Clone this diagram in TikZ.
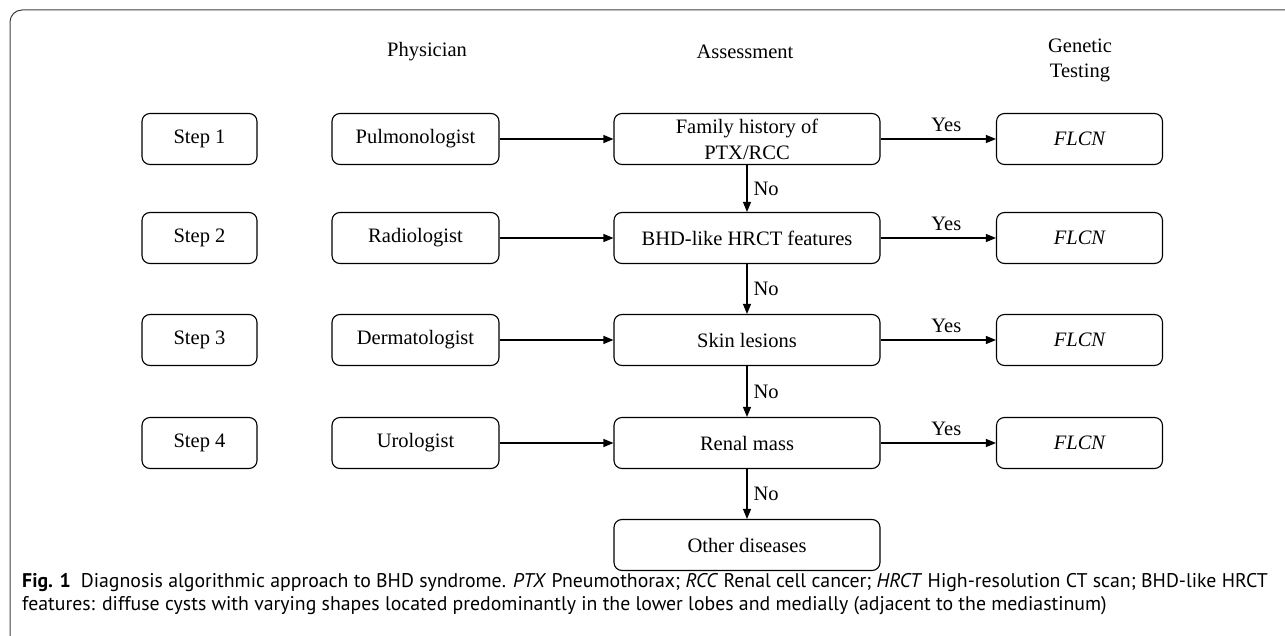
\documentclass[tikz,border=0pt]{standalone}
\usepackage{fontspec}
\setmainfont{Liberation Serif}
\newfontfamily\capfont{PT Sans}
\usetikzlibrary{arrows.meta,positioning}

\begin{document}
\begin{tikzpicture}[x=1pt,y=-1pt,
  box/.style={draw, line width=1.1pt, rounded corners=8pt, inner sep=0pt,
    minimum height=51pt, align=center, font=\fontsize{20.5}{24}\selectfont},
  head/.style={align=center, font=\fontsize{20.5}{25}\selectfont},
  lab/.style={font=\fontsize{20.5}{24}\selectfont, inner sep=2pt},
  link/.style={line width=1.1pt, -{Triangle[length=10pt,width=8pt]}}]
\useasboundingbox (0,0) rectangle (1285,636);
\clip (0,0) rectangle (1285,636);
% frame
\draw[line width=1pt, draw=black!75, rounded corners=12pt] (10,10) rectangle (1310,648);
% column titles
\node[head] (hphys) at (427,52) {Physician};
\node[head] (hass) at (745,52) {Assessment};
\node[head] (hgen) at (1080,60) {Genetic\\Testing};
% steps
\foreach \i/\y in {1/139,2/238,3/340,4/443}
  \node[box, minimum width=115pt] (step\i) at (199.5,\y) {Step \i};
% physicians
\node[box, minimum width=167pt] (phys1) at (415.5,139) {Pulmonologist};
\node[box, minimum width=167pt] (phys2) at (415.5,238) {Radiologist};
\node[box, minimum width=167pt] (phys3) at (415.5,340) {Dermatologist};
\node[box, minimum width=167pt] (phys4) at (415.5,443) {Urologist};
% assessments
\node[box, minimum width=266pt, font=\fontsize{20.5}{26}\selectfont] (ass1) at (747,139) {Family history of\\PTX/RCC};
\node[box, minimum width=266pt] (ass2) at (747,238) {BHD-like HRCT features};
\node[box, minimum width=266pt] (ass3) at (747,340) {Skin lesions};
\node[box, minimum width=266pt] (ass4) at (747,443) {Renal mass};
\node[box, minimum width=266pt] (other) at (747,545) {Other diseases};
% genetic testing
\foreach \i/\y in {1/139,2/238,3/340,4/443}
  \node[box, minimum width=166pt] (gen\i) at (1079.5,\y) {\itshape FLCN};
% connectors
\foreach \i in {1,...,4} {
  \draw[link] (phys\i) -- (ass\i);
  \draw[link] (ass\i) -- node[lab, above, pos=0.57, yshift=5pt] {Yes} (gen\i);
}
\draw[link] (ass1) -- node[lab, right, xshift=4pt] {No} (ass2);
\draw[link] (ass2) -- node[lab, right, xshift=4pt] {No} (ass3);
\draw[link] (ass3) -- node[lab, right, xshift=4pt] {No} (ass4);
\draw[link] (ass4) -- node[lab, right, xshift=4pt] {No} (other);
% caption
\node[anchor=north west, align=left, inner sep=0pt,
  font=\capfont\fontsize{19.8}{23}\selectfont] (cap) at (22,573)
  {\textbf{Fig. 1}\enspace Diagnosis algorithmic approach to BHD syndrome. \textit{PTX} Pneumothorax; \textit{RCC} Renal cell cancer; \textit{HRCT} High-resolution CT scan; BHD-like HRCT\\
  features: diffuse cysts with varying shapes located predominantly in the lower lobes and medially (adjacent to the mediastinum)};
\end{tikzpicture}
\end{document}
